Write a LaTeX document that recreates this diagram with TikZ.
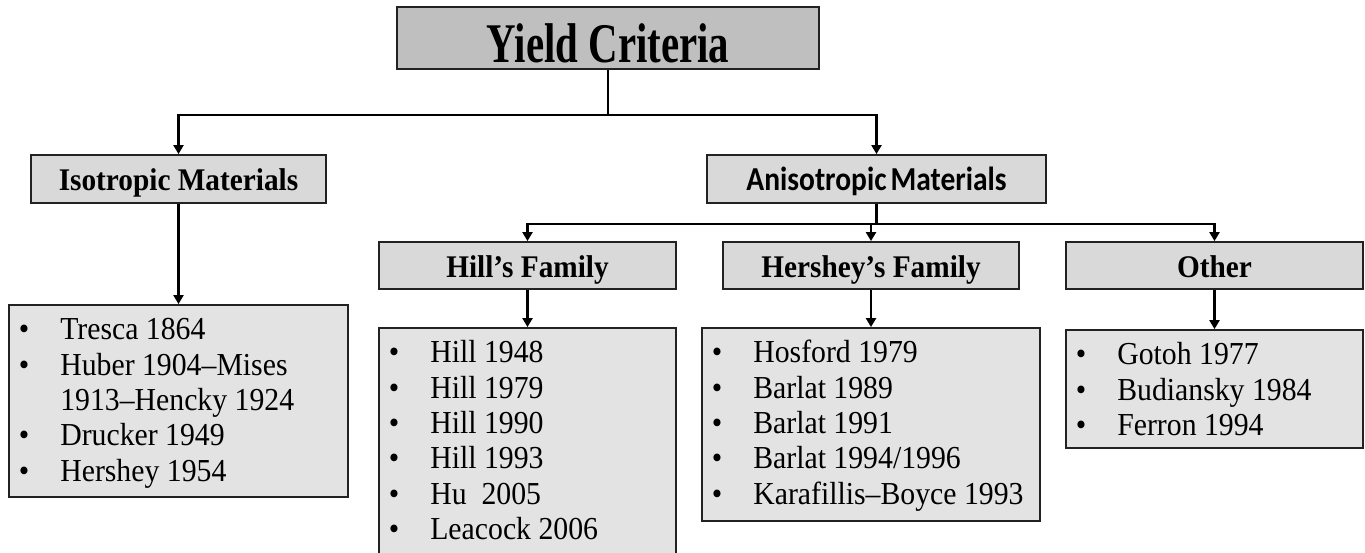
\documentclass[tikz,border=0pt]{standalone}
\usepackage{fontspec}
\setmainfont[FakeStretch=0.93]{Liberation Serif}
\newfontfamily\titlefont[FakeStretch=0.73]{Liberation Serif}
\newfontfamily\calfont[FakeStretch=0.88]{Carlito}
\usetikzlibrary{arrows.meta,calc}

\definecolor{titlefill}{HTML}{BFBFBF}
\definecolor{headfill}{HTML}{D9D9D9}
\definecolor{listfill}{HTML}{E3E3E3}
\definecolor{edge}{HTML}{222222}

% bullet list inside a box: #1 = box name, #2 = items
\newcommand\drawitems[2]{%
  \foreach \t [count=\i] in {#2}{%
    \node[bulletmark] (#1-b\i) at ($(#1.north west)+(16,{35.5+35.4*(\i-1)})$) {•};
    \node[itemtext] (#1-t\i) at ($(#1.north west)+(52,{35.5+35.4*(\i-1)})$) {\t};
  }%
}

\begin{document}
\begin{tikzpicture}[x=1pt,y=-1pt,
  box/.style={draw=edge, line width=1.8pt, inner sep=0pt, rectangle},
  header/.style={box, fill=headfill, minimum height=48pt,
    text height=24pt, text depth=0pt,
    font=\bfseries\fontsize{31.5}{36}\selectfont},
  listbox/.style={box, fill=listfill},
  bulletmark/.style={anchor=base, inner sep=0pt, font=\fontsize{32}{36}\selectfont},
  itemtext/.style={anchor=base west, inner sep=0pt, font=\fontsize{32}{36}\selectfont},
  conn/.style={draw=black, line width=2.2pt},
  arr/.style={conn, -{Triangle[width=10pt,length=9pt]}}
]
\clip (0,0) rectangle (1365,553);
\fill[white] (0,0) rectangle (1365,553);

% top level
\node[box, fill=titlefill, minimum width=422pt, minimum height=62pt,
  text height=50pt, text depth=0pt,
  font=\titlefont\bfseries\fontsize{56}{60}\selectfont] (yield) at (608,38) {Yield Criteria};

% material classes
\node[header, minimum width=295pt] (iso) at (178.5,179) {Isotropic Materials};
\node[header, minimum width=339pt, font=\calfont\bfseries\fontsize{33.5}{38}\selectfont,
  text height=23pt] (aniso) at (876.5,179) {Anisotropic\hspace{0.12em}Materials};

% anisotropic families
\node[header, minimum width=297pt, minimum height=47pt] (hill) at (527.5,265.5) {Hill’s Family};
\node[header, minimum width=296pt, minimum height=47pt] (hershey) at (871,265.5) {Hershey’s Family};
\node[header, minimum width=297pt, minimum height=47pt] (other) at (1214.5,265.5) {Other};

% criteria lists
\node[listbox, minimum width=339pt, minimum height=192pt] (isolist) at (178.5,401) {};
\node[listbox, minimum width=297pt, minimum height=250pt] (hilllist) at (527.5,453) {};
\node[listbox, minimum width=338pt, minimum height=193pt] (hersheylist) at (871,424.5) {};
\node[listbox, minimum width=297pt, minimum height=118pt] (otherlist) at (1214.5,389) {};

% isotropic list (second entry wraps onto a third line)
\foreach \t/\k in {Tresca 1864/1, Huber 1904–Mises/2, Drucker 1949/4, Hershey 1954/5}{
  \node[bulletmark] (isolist-b\k) at ($(isolist.north west)+(16,{35.5+35.4*(\k-1)})$) {•};
  \node[itemtext] (isolist-t\k) at ($(isolist.north west)+(52,{35.5+35.4*(\k-1)})$) {\t};
}
\node[itemtext] (isolist-t3) at ($(isolist.north west)+(52,{35.5+35.4*2})$) {1913–Hencky 1924};

\drawitems{hilllist}{Hill 1948, Hill 1979, Hill 1990, Hill 1993, Hu\ \ 2005, Leacock 2006}
\drawitems{hersheylist}{Hosford 1979, Barlat 1989, Barlat 1991, Barlat 1994/1996, Karafillis–Boyce 1993}
\drawitems{otherlist}{Gotoh 1977, Budiansky 1984, Ferron 1994}

% connectors
\draw[conn] (yield.south) -- ($(yield.south)+(0,45)$) coordinate (split1);
\draw[arr] (split1) -| (iso.north);
\draw[arr] (split1) -| (aniso.north);
\draw[conn] (aniso.south) -- ($(aniso.south)+(0,20)$) coordinate (split2);
\draw[arr] (split2) -| (hill.north);
\draw[arr] (split2) -| (hershey.north);
\draw[arr] (split2) -| (other.north);
\draw[arr] (iso.south) -- (isolist.north);
\draw[arr] (hill.south) -- (hilllist.north);
\draw[arr] (hershey.south) -- (hersheylist.north);
\draw[arr] (other.south) -- (otherlist.north);
\end{tikzpicture}
\end{document}
